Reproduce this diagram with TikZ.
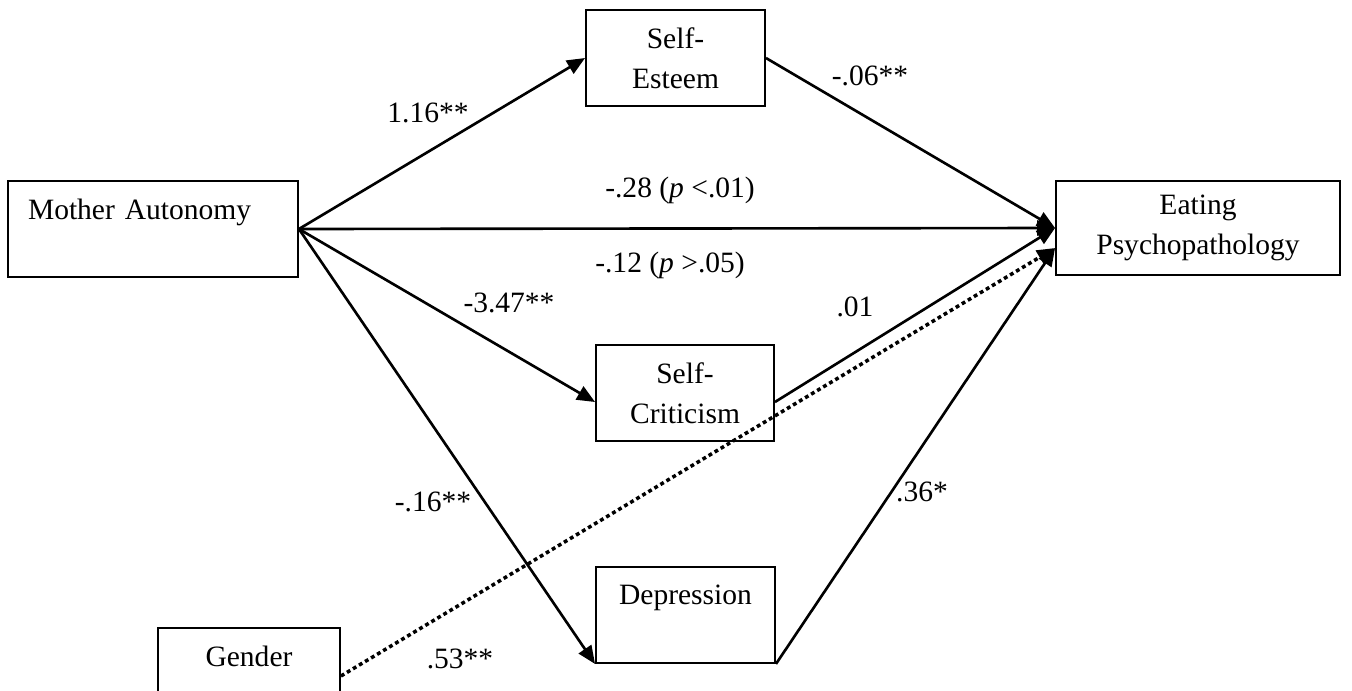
\documentclass[tikz,border=0pt]{standalone}
\usepackage{fontspec}
\setmainfont{Liberation Serif}
\usetikzlibrary{arrows.meta, positioning}

\begin{document}
\begin{tikzpicture}
		[x=0.02cm, y=-0.02cm,
		font=\fontsize{16.8}{22.8}\selectfont,
		box/.style={rectangle, draw, line width=1.1pt, minimum height=1.92cm, align=center, inner sep=0pt},
		effect/.style={-{Triangle[length=0.36cm, width=0.3cm]}, line width=1.5pt},
		control/.style={effect, dash pattern=on 2.2pt off 1.8pt, line width=2pt}]
		\clip (0,0) rectangle (1352,690);
		% nodes %
		\node[box, minimum width=5.8cm, text width=5cm, align=left, inner xsep=0.4cm] (ma) at (153,229) {Mother Autonomy\\ ~};
		\node[box, minimum width=3.58cm] (se) at (675.5,58) {Self-\\Esteem};
		\node[box, minimum width=5.68cm, minimum height=1.88cm] (ep) at (1198,228) {Eating\\Psychopathology};
		\node[box, minimum width=3.56cm] (sc) at (685,393) {Self-\\Criticism};
		\node[box, minimum width=3.58cm] (dep) at (685.5,615) {Depression\\ ~};
		\node[box, minimum width=3.64cm] (gen) at (249,676) {Gender\\ ~};

		% coefficients %
		\node (a1) at (428,113) {1.16**};
		\node (b1) at (870,76) {-.06**};
		\node (c) at (680,190) {-.28 (\textit{p} <.01)};
		\node (cp) at (670,265) {-.12 (\textit{p} >.05)};
		\node (a2) at (509,303) {-3.47**};
		\node (b2) at (855,307) {.01};
		\node (a3) at (433,502) {-.16**};
		\node (b3) at (922,492) {.36*};
		\node (g) at (460,659) {.53**};

		% edges %
		\draw[effect] (ma.east) -- (se.west);
		\draw[effect] (ma.east) -- (ep.west);
		\draw[effect] (ma.east) -- ([yshift=-0.18cm]sc.west);
		\draw[effect] (ma.east) -- (dep.south west);
		\draw[effect] (se.east) -- (ep.west);
		\draw[effect] ([yshift=-0.18cm]sc.east) -- (ep.west);
		\draw[effect] (dep.south east) -- ([yshift=-0.4cm]ep.west);
		\draw[control] (gen.east) -- ([yshift=-0.4cm]ep.west);
\end{tikzpicture}
\end{document}
